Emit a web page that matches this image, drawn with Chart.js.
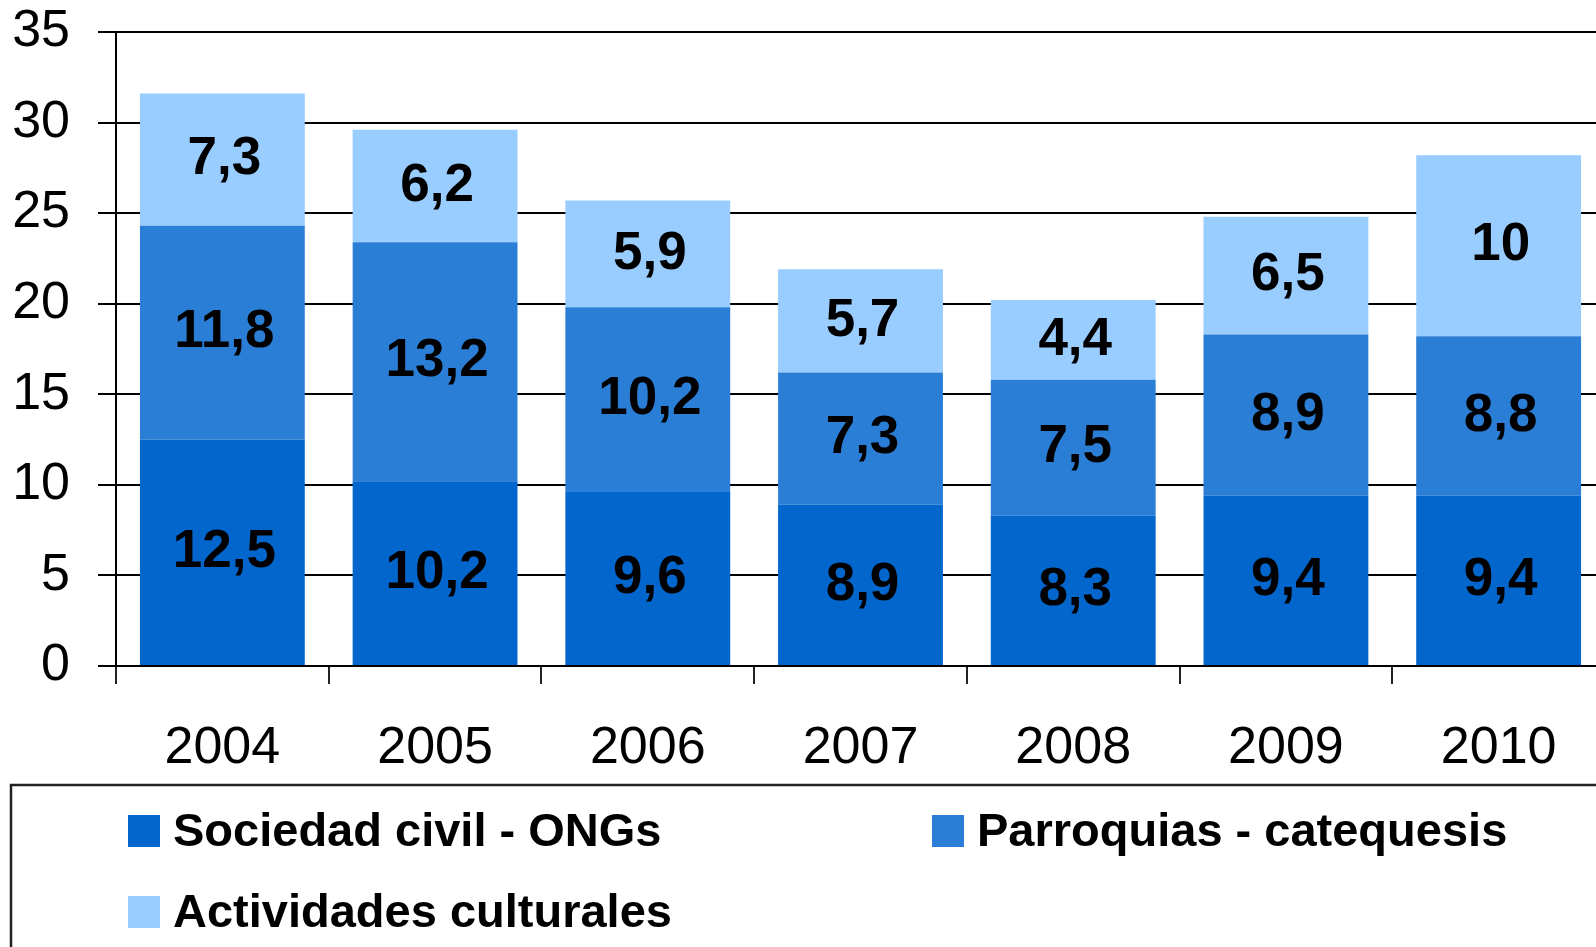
<!DOCTYPE html>
<html lang="es">

<head>
    <meta charset="UTF-8">
    <title>Sociedad civil, parroquias y actividades culturales</title>
    <script src="https://cdn.jsdelivr.net/npm/chart.js"></script>
    <style>
        html, body {
            margin: 0;
            padding: 0;
            overflow: hidden;
            background: #fff;
        }
        #wrap {
            width: 1605px;
            height: 947px;
        }
    </style>
</head>

<body>
    <div id="wrap"><canvas id="stackChart"></canvas></div>

    <script>
        const years = ['2004', '2005', '2006', '2007', '2008', '2009', '2010'];
        const sociedadCivil = [12.5, 10.2, 9.6, 8.9, 8.3, 9.4, 9.4];
        const parroquias = [11.8, 13.2, 10.2, 7.3, 7.5, 8.9, 8.8];
        const actividades = [7.3, 6.2, 5.9, 5.7, 4.4, 6.5, 10];
        const seriesNames = ['Sociedad civil - ONGs', 'Parroquias - catequesis', 'Actividades culturales'];
        const yTicks = [0, 5, 10, 15, 20, 25, 30, 35];

        const colors = ['#0366CC', '#2A7ED6', '#99CCFF'];
        const FONT = '"Liberation Sans", Arial, sans-serif';

        // value labels centred in each segment, decimal comma
        const segmentLabels = {
            id: 'segmentLabels',
            afterDatasetsDraw(chart) {
                const ctx = chart.ctx;
                ctx.save();
                ctx.font = 'bold 53px ' + FONT;
                ctx.fillStyle = '#000';
                ctx.textAlign = 'center';
                ctx.textBaseline = 'middle';
                chart.data.datasets.forEach((ds, i) => {
                    const meta = chart.getDatasetMeta(i);
                    meta.data.forEach((bar, j) => {
                        const p = bar.getProps(['x', 'y', 'base'], true);
                        const txt = String(ds.data[j]).replace('.', ',');
                        ctx.fillText(txt, p.x + 2, (p.y + p.base) / 2);
                    });
                });
                ctx.restore();
            }
        };

        // boxed legend under the axis, two columns
        const boxLegend = {
            id: 'boxLegend',
            afterDraw(chart) {
                const ctx = chart.ctx;
                const top = chart.scales.x.bottom;
                ctx.save();
                ctx.strokeStyle = '#222';
                ctx.lineWidth = 2.5;
                ctx.strokeRect(11, top, 2000, 500);

                const spots = [
                    { x: 128, row: 0 },
                    { x: 932, row: 0 },
                    { x: 128, row: 1 }
                ];
                ctx.font = 'bold 47px ' + FONT;
                ctx.textAlign = 'left';
                ctx.textBaseline = 'alphabetic';
                chart.data.datasets.forEach((ds, i) => {
                    const s = spots[i];
                    const y = top + 30 + s.row * 81;
                    ctx.fillStyle = ds.backgroundColor;
                    ctx.fillRect(s.x, y, 32, 32);
                    ctx.fillStyle = '#000';
                    ctx.fillText(ds.label, s.x + 45, y + 31);
                });
                ctx.restore();
            }
        };

        const ctx = document.getElementById('stackChart').getContext('2d');
        new Chart(ctx, {
            type: 'bar',
            data: {
                labels: years,
                datasets: [
                    { label: seriesNames[0], data: sociedadCivil, backgroundColor: colors[0] },
                    { label: seriesNames[1], data: parroquias, backgroundColor: colors[1] },
                    { label: seriesNames[2], data: actividades, backgroundColor: colors[2] }
                ]
            },
            options: {
                responsive: true,
                maintainAspectRatio: false,
                animation: false,
                layout: {
                    padding: { top: 32, left: 0, right: 0, bottom: 162 }
                },
                datasets: {
                    bar: {
                        categoryPercentage: 1,
                        barPercentage: 0.775,
                        borderWidth: 0
                    }
                },
                scales: {
                    x: {
                        stacked: true,
                        afterFit(scale) {
                            scale.height = 119;
                            scale.paddingLeft = 0;
                            scale.paddingRight = 0;
                        },
                        grid: {
                            drawOnChartArea: false,
                            drawTicks: true,
                            tickLength: 18,
                            color: '#222',
                            lineWidth: 2
                        },
                        border: { display: true, color: '#000', width: 2 },
                        ticks: {
                            color: '#000',
                            padding: 33,
                            font: { family: FONT, size: 52 }
                        }
                    },
                    y: {
                        stacked: true,
                        min: 0,
                        max: 35,
                        afterFit(scale) {
                            scale.width = 116;
                            scale.paddingTop = 0;
                            scale.paddingBottom = 0;
                        },
                        afterBuildTicks(scale) {
                            scale.ticks = yTicks.map(v => ({ value: v }));
                        },
                        grid: {
                            color: '#000',
                            lineWidth: 2,
                            tickLength: 18
                        },
                        border: { display: true, color: '#000', width: 2 },
                        ticks: {
                            color: '#000',
                            padding: 28,
                            font: { family: FONT, size: 52 }
                        }
                    }
                },
                plugins: {
                    legend: { display: false },
                    tooltip: { enabled: false }
                }
            },
            plugins: [segmentLabels, boxLegend]
        });
    </script>
</body>

</html>
